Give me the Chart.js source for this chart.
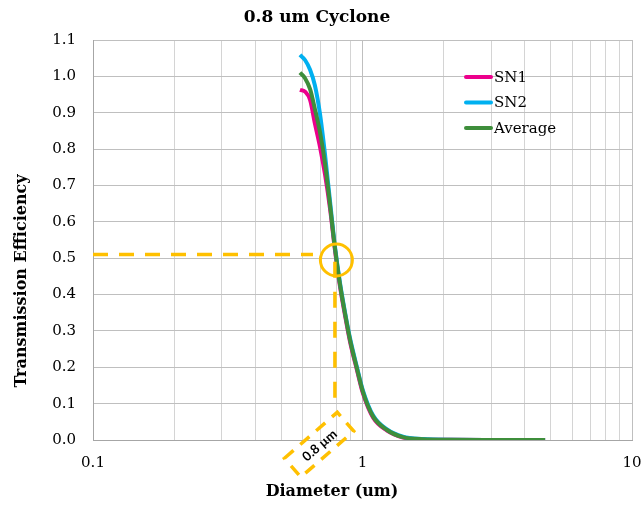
<!DOCTYPE html>
<html>
<head>
<meta charset="utf-8">
<script src="https://cdn.jsdelivr.net/npm/chart.js@4/dist/chart.umd.min.js"></script>
<style>
  html, body { margin: 0; padding: 0; background: #ffffff; }
  #wrap { width: 642px; height: 508px; }
</style>
</head>
<body>
<div id="wrap"><canvas id="c" width="642" height="508"></canvas></div>
<script>
// ---- Data ----
const diameters = [0.586, 0.612, 0.639, 0.666, 0.696, 0.726, 0.758, 0.791, 0.825, 0.861, 0.899, 0.954, 1.004, 1.094, 1.233, 1.413, 1.677, 2.11, 3.24, 4.76];
const sn1 = [0.963, 0.958, 0.935, 0.870, 0.805, 0.730, 0.635, 0.520, 0.422, 0.343, 0.270, 0.192, 0.128, 0.062, 0.026, 0.007, 0.0015, 0.0004, 0.0001, 0.0001];
const sn2 = [1.059, 1.045, 1.018, 0.975, 0.895, 0.785, 0.655, 0.530, 0.432, 0.352, 0.280, 0.200, 0.136, 0.068, 0.029, 0.009, 0.0025, 0.0006, 0.0003, 0.0003];
const average = [1.010, 0.995, 0.965, 0.910, 0.845, 0.760, 0.645, 0.525, 0.428, 0.348, 0.275, 0.196, 0.132, 0.065, 0.0275, 0.008, 0.002, 0.0005, 0.0002, 0.0002];
const seriesNames = ['SN1', 'SN2', 'Average'];
const seriesColors = ['#EC008C', '#00B0F0', '#3E8E3B'];
const xGridValues = [0.1,0.2,0.3,0.4,0.5,0.6,0.7,0.8,0.9,1,2,3,4,5,6,7,8,9,10];
const xLabelValues = [0.1, 1, 10];
const chartTitle = '0.8 um Cyclone';
const xTitle = 'Diameter (um)';
const yTitle = 'Transmission Efficiency';
// annotation anchors (data units)
const cutSize = 0.8;
const cutLabel = '0.8 µm';
const hLineY = 0.51, hLineFrom = 0.1, hLineTo = 0.655;
const vLineX = 0.79, vLineFrom = 0.49, vLineTo = 0.11;
const circleY = 0.495;
const boxX = 0.69, boxY = -0.013;

const ORANGE = '#FFC000';
const serif = "'DejaVu Serif', serif";

const toPoints = (arr) => diameters.map((d, i) => ({ x: d, y: arr[i] }));
const allSeries = [sn1, sn2, average];

const datasets = allSeries.map((arr, i) => ({
  label: seriesNames[i],
  data: toPoints(arr),
  borderColor: seriesColors[i],
  backgroundColor: seriesColors[i],
  borderWidth: 4,
  pointRadius: 0,
  fill: false,
  order: allSeries.length - i,
  cubicInterpolationMode: 'monotone'
}));

const overlay = {
  id: 'overlay',
  afterDatasetsDraw(chart) {
    const { ctx, scales: { x, y } } = chart;
    ctx.save();
    ctx.strokeStyle = ORANGE;
    ctx.lineCap = 'butt';
    // horizontal dashed
    ctx.lineWidth = 3.5;
    ctx.setLineDash([15, 11]);
    ctx.beginPath();
    ctx.moveTo(x.getPixelForValue(hLineFrom), y.getPixelForValue(hLineY));
    ctx.lineTo(x.getPixelForValue(hLineTo), y.getPixelForValue(hLineY));
    ctx.stroke();
    // vertical dashed
    ctx.setLineDash([16, 14]);
    ctx.beginPath();
    ctx.moveTo(x.getPixelForValue(vLineX), y.getPixelForValue(vLineFrom));
    ctx.lineTo(x.getPixelForValue(vLineX), y.getPixelForValue(vLineTo));
    ctx.stroke();
    // circle
    ctx.setLineDash([]);
    ctx.lineWidth = 3;
    ctx.beginPath();
    ctx.arc(x.getPixelForValue(cutSize), y.getPixelForValue(circleY), 16, 0, Math.PI * 2);
    ctx.stroke();
    // rotated dashed box with label
    const bx = x.getPixelForValue(boxX), by = y.getPixelForValue(boxY);
    ctx.translate(bx, by);
    ctx.rotate(-41 * Math.PI / 180);
    ctx.lineWidth = 3.5;
    ctx.setLineDash([12, 9]);
    ctx.strokeRect(-35, -12.5, 70, 25);
    ctx.setLineDash([]);
    ctx.fillStyle = '#000';
    ctx.font = "bold 13px Lato, sans-serif";
    ctx.textAlign = 'center';
    ctx.textBaseline = 'middle';
    ctx.fillText(cutLabel, 0, 1);
    ctx.restore();
  },
  afterDraw(chart) {
    const { ctx } = chart;
    ctx.save();
    // legend
    ctx.font = "15px " + serif;
    ctx.textBaseline = 'middle';
    ctx.textAlign = 'left';
    chart.data.datasets.forEach((ds, i) => {
      const ly = 77 + i * 25.5;
      ctx.strokeStyle = ds.borderColor;
      ctx.lineWidth = 4;
      ctx.lineCap = 'round';
      ctx.beginPath();
      ctx.moveTo(466, ly);
      ctx.lineTo(491, ly);
      ctx.stroke();
      ctx.fillStyle = '#000';
      ctx.fillText(ds.label, 494, ly + 1);
    });
    // titles
    ctx.fillStyle = '#000';
    ctx.textAlign = 'center';
    ctx.font = "bold 17px " + serif;
    ctx.fillText(chartTitle, 317, 18);
    ctx.font = "bold 16px " + serif;
    ctx.fillText(xTitle, 332, 492);
    ctx.translate(22, 281);
    ctx.rotate(-Math.PI / 2);
    ctx.fillText(yTitle, 0, 0);
    ctx.restore();
  }
};

const isPow10 = (v) => Math.abs(Math.log10(v) - Math.round(Math.log10(v))) < 1e-9;

new Chart(document.getElementById('c'), {
  type: 'line',
  data: { datasets },
  plugins: [overlay],
  options: {
    responsive: false,
    devicePixelRatio: 1,
    animation: false,
    layout: { padding: { top: 40, right: 10, left: 0, bottom: 0 } },
    plugins: { legend: { display: false }, title: { display: false }, tooltip: { enabled: false } },
    scales: {
      x: {
        type: 'logarithmic',
        min: 0.1,
        max: 10,
        afterBuildTicks: (s) => { s.ticks = xGridValues.map(v => ({ value: v, major: isPow10(v) })); },
        afterFit: (s) => { s.height = 68; s.paddingRight = 0; s.paddingLeft = 0; },
        ticks: {
          autoSkip: false,
          maxRotation: 0,
          padding: 14,
          color: '#000',
          font: { family: serif, size: 15 },
          callback: (v) => xLabelValues.some(l => Math.abs(l - v) < 1e-9) ? String(v) : ''
        },
        grid: {
          drawTicks: false,
          color: (c) => (c.tick && isPow10(c.tick.value)) ? '#bfbfbf' : '#d4d4d4',
          lineWidth: 1
        },
        border: { color: '#a6a6a6', width: 1 }
      },
      y: {
        type: 'linear',
        min: 0,
        max: 1.1,
        afterFit: (s) => { s.width = 93; s.paddingTop = 0; s.paddingBottom = 0; },
        ticks: {
          stepSize: 0.1,
          padding: 17,
          color: '#000',
          font: { family: serif, size: 15 },
          callback: (v) => Number(v).toFixed(1)
        },
        grid: { drawTicks: false, color: '#bfbfbf', lineWidth: 1 },
        border: { color: '#a6a6a6', width: 1 }
      }
    }
  }
});
</script>
</body>
</html>
